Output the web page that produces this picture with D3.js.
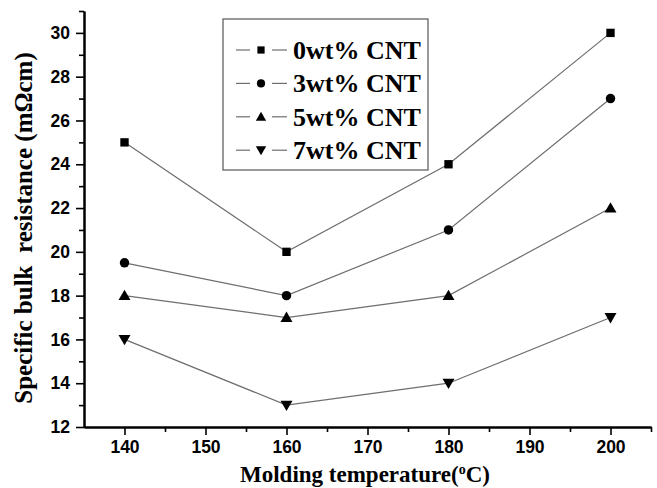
<!DOCTYPE html>
<html>
<head>
<meta charset="utf-8">
<script src="https://cdn.jsdelivr.net/npm/d3@7"></script>
<style>
  html, body { margin: 0; padding: 0; background: #fff; }
  svg { display: block; }
</style>
</head>
<body>
<svg id="chart" width="657" height="488"></svg>
<script>
// Molding temperature (°C)
const temperatures = [140, 160, 180, 200];
// Specific bulk resistance (mΩcm) for each CNT loading
const cnt0 = [25, 20, 24, 30];
const cnt3 = [19.5, 18, 21, 27];
const cnt5 = [18, 17, 18, 22];
const cnt7 = [16, 13, 14, 17];
const seriesNames = ["0wt% CNT", "3wt% CNT", "5wt% CNT", "7wt% CNT"];
const xTicks = [140, 150, 160, 170, 180, 190, 200];
const yTicks = [12, 14, 16, 18, 20, 22, 24, 26, 28, 30];

const series = [
  { name: seriesNames[0], values: cnt0, symbol: d3.symbolSquare, size: 70 },
  { name: seriesNames[1], values: cnt3, symbol: d3.symbolCircle, size: 70 },
  { name: seriesNames[2], values: cnt5, symbol: d3.symbolTriangle, size: 62 },
  { name: seriesNames[3], values: cnt7, symbol: d3.symbolTriangle, size: 62, flip: true }
];

const svg = d3.select("#chart");
const margin = { left: 84, right: 6, top: 11, bottom: 61 };
const W = 657, H = 488;

const x = d3.scaleLinear().domain([135, 205]).range([margin.left, W - margin.right]);
const y = d3.scaleLinear().domain([12, 31]).range([H - margin.bottom, margin.top]);

const sansFamily = "'Liberation Sans', Arial, sans-serif";
const serifFamily = "'Liberation Serif', 'Times New Roman', serif";

// Axes: major ticks with labels, minor ticks between them
const xAxis = d3.axisBottom(x).tickValues(xTicks).tickSize(8).tickPadding(6).tickSizeOuter(0);
const xMinor = d3.axisBottom(x).tickValues([145, 155, 165, 175, 185, 195, 205]).tickSize(5).tickFormat("").tickSizeOuter(0);
const yAxis = d3.axisLeft(y).tickValues(yTicks).tickSize(8).tickPadding(6).tickSizeOuter(0);
const yMinor = d3.axisLeft(y).tickValues([13, 15, 17, 19, 21, 23, 25, 27, 29, 31]).tickSize(5).tickFormat("").tickSizeOuter(0);

function styleAxis(g) {
  g.attr("font-family", sansFamily).attr("font-size", 17.5).attr("font-weight", "bold");
  g.select(".domain").attr("stroke", "#000").attr("stroke-width", 2);
  g.selectAll(".tick line").attr("stroke", "#000").attr("stroke-width", 1.6);
  g.selectAll(".tick text").attr("fill", "#000");
}

svg.append("g").attr("transform", `translate(0,${H - margin.bottom})`).call(xMinor).call(styleAxis);
svg.append("g").attr("transform", `translate(0,${H - margin.bottom})`).call(xAxis).call(styleAxis);
svg.append("g").attr("transform", `translate(${margin.left},0)`).call(yMinor).call(styleAxis);
svg.append("g").attr("transform", `translate(${margin.left},0)`).call(yAxis).call(styleAxis);

// Axis titles
const xTitle = svg.append("text")
  .attr("x", 365).attr("y", 482)
  .attr("text-anchor", "middle")
  .attr("font-family", serifFamily).attr("font-size", 23).attr("font-weight", "bold");
xTitle.append("tspan").text("Molding temperature(");
xTitle.append("tspan").attr("dy", -8).attr("font-size", 14).text("o");
xTitle.append("tspan").attr("dy", 8).text("C)");

svg.append("text")
  .attr("transform", "translate(32,228) rotate(-90)")
  .attr("text-anchor", "middle")
  .attr("font-family", serifFamily).attr("font-size", 25).attr("font-weight", "bold")
  .style("white-space", "pre")
  .text("Specific bulk  resistance (mΩcm)");

// Lines and markers
const line = d3.line().x((d, i) => x(temperatures[i])).y(d => y(d));

function markerTransform(s, px, py) {
  const dy = s.symbol === d3.symbolTriangle ? (s.flip ? -1 : 1) : 0;
  return `translate(${px},${py + dy})${s.flip ? " rotate(180)" : ""}`;
}

series.forEach(s => {
  svg.append("path")
    .datum(s.values)
    .attr("d", line)
    .attr("fill", "none")
    .attr("stroke", "#6e6e6e")
    .attr("stroke-width", 1.2);

  svg.selectAll(null)
    .data(s.values)
    .enter().append("path")
    .attr("d", d3.symbol().type(s.symbol).size(s.size))
    .attr("transform", (d, i) => markerTransform(s, x(temperatures[i]), y(d)))
    .attr("fill", "#000");
});

// Legend
const legend = svg.append("g");
legend.append("rect")
  .attr("x", 223).attr("y", 19).attr("width", 205).attr("height", 151)
  .attr("fill", "#fff").attr("stroke", "#555").attr("stroke-width", 1.2);

series.forEach((s, i) => {
  const cy = 50 + i * 33.4;
  legend.append("line")
    .attr("x1", 236).attr("x2", 250).attr("y1", cy).attr("y2", cy)
    .attr("stroke", "#6e6e6e").attr("stroke-width", 1.2);
  legend.append("line")
    .attr("x1", 272).attr("x2", 287).attr("y1", cy).attr("y2", cy)
    .attr("stroke", "#6e6e6e").attr("stroke-width", 1.2);
  legend.append("path")
    .attr("d", d3.symbol().type(s.symbol).size(s.size * 0.75))
    .attr("transform", markerTransform(s, 261, cy))
    .attr("fill", "#000");
  legend.append("text")
    .attr("x", 293).attr("y", cy + 9)
    .attr("font-family", serifFamily).attr("font-size", 26).attr("font-weight", "bold")
    .text(s.name);
});
</script>
</body>
</html>
